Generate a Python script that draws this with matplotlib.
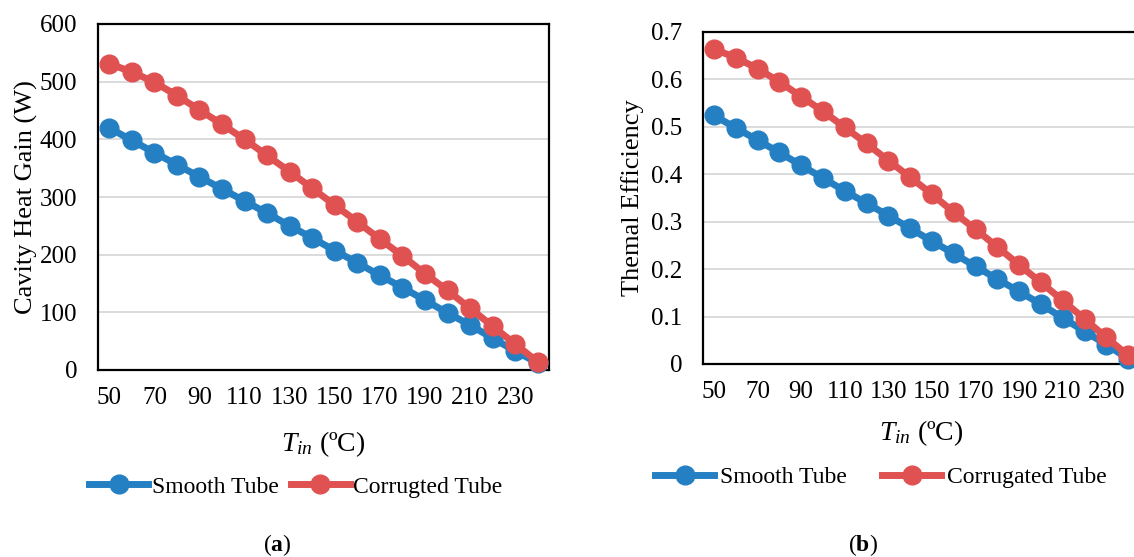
import matplotlib
matplotlib.use("Agg")
import matplotlib.pyplot as plt
from matplotlib.lines import Line2D

plt.rcParams['font.family'] = ['Liberation Serif', 'DejaVu Serif']
plt.rcParams['mathtext.fontset'] = 'custom'
plt.rcParams['mathtext.it'] = 'Liberation Serif:italic'
plt.rcParams['mathtext.rm'] = 'Liberation Serif'
plt.rcParams['mathtext.bf'] = 'Liberation Serif:bold'

T_in = [50, 60, 70, 80, 90, 100, 110, 120, 130, 140, 150, 160, 170, 180, 190, 200, 210, 220, 230, 240]
tick_labels = [50, 70, 90, 110, 130, 150, 170, 190, 210, 230]

heat_smooth = [420, 398, 377, 356, 335, 314, 293, 272, 250, 229, 207, 186, 164, 143, 121, 99, 78, 55, 33, 12]
heat_corr = [531, 517, 499, 476, 451, 426, 400, 372, 344, 315, 286, 257, 227, 198, 167, 138, 107, 76, 45, 14]

eff_smooth = [0.524, 0.498, 0.472, 0.446, 0.419, 0.392, 0.365, 0.339, 0.313, 0.286, 0.259, 0.233, 0.206, 0.179,
              0.153, 0.126, 0.097, 0.069, 0.041, 0.011]
eff_corr = [0.664, 0.646, 0.623, 0.595, 0.564, 0.533, 0.499, 0.465, 0.429, 0.394, 0.358, 0.320, 0.284, 0.247,
            0.209, 0.172, 0.134, 0.095, 0.056, 0.018]

BLUE = '#2580C3'
RED = '#E05252'
FS = 18
LW = 5
MS = 13.5

fig = plt.figure(figsize=(11.34, 5.57), dpi=100)
W, H = 1134, 557


def make_axes(px_left, px_right, px_top, px_bottom):
    return fig.add_axes([px_left / W, 1 - px_bottom / H, (px_right - px_left) / W, (px_bottom - px_top) / H])


def style(ax, ylim, yticks, yfmt):
    ax.set_xlim(45, 245)
    ax.set_ylim(*ylim)
    ax.set_yticks(yticks)
    ax.set_yticklabels([yfmt(v) for v in yticks], fontsize=FS)
    ax.set_xticks(tick_labels)
    ax.set_xticklabels([str(v) for v in tick_labels], fontsize=FS)
    ax.tick_params(length=0)
    ax.tick_params(axis='x', pad=12)
    ax.tick_params(axis='y', pad=15)
    ax.grid(axis='y', color='#D9D9D9', lw=1.3)
    ax.set_axisbelow(True)
    for s in ax.spines.values():
        s.set_linewidth(1.6)
        s.set_color('black')


def draw(ax, s, c):
    ax.plot(T_in, s, color=BLUE, lw=LW, marker='o', ms=MS, clip_on=False, zorder=3)
    ax.plot(T_in, c, color=RED, lw=LW, marker='o', ms=MS, clip_on=False, zorder=4)


# (a)
ax1 = make_axes(98, 549, 24, 370)
draw(ax1, heat_smooth, heat_corr)
style(ax1, (0, 600), [0, 100, 200, 300, 400, 500, 600], lambda v: f"{v:d}")
ax1.set_ylabel('Cavity Heat Gain (W)', fontsize=19, labelpad=1)
ax1.set_xlabel(r'$T_{in}$ (ºC)', fontsize=20, labelpad=15)

# (b)
ax2 = make_axes(703, 1139, 32, 364)
draw(ax2, eff_smooth, eff_corr)
style(ax2, (0, 0.7), [0, 0.1, 0.2, 0.3, 0.4, 0.5, 0.6, 0.7], lambda v: "0" if v == 0 else f"{v:.1f}")
ax2.set_ylabel('Themal Efficiency', fontsize=19, labelpad=5)
ax2.set_xlabel(r'$T_{in}$ (ºC)', fontsize=20, labelpad=11)


def handles():
    return [Line2D([], [], color=BLUE, lw=LW, marker='o', ms=MS),
            Line2D([], [], color=RED, lw=LW, marker='o', ms=MS)]


fig.legend(handles(), ['Smooth Tube', 'Corrugted Tube'], loc='center', bbox_to_anchor=(296 / W, 1 - 487 / H),
           ncol=2, frameon=False, fontsize=17, handlelength=2.5, handletextpad=0.15, columnspacing=0.5)
fig.legend(handles(), ['Smooth Tube', 'Corrugated Tube'], loc='center', bbox_to_anchor=(881 / W, 1 - 477 / H),
           ncol=2, frameon=False, fontsize=17, handlelength=2.5, handletextpad=0.25, columnspacing=1.5)

fig.text(277 / W, 1 - 545 / H, r'($\mathbf{a}$)', ha='center', va='center', fontsize=17)
fig.text(863 / W, 1 - 545 / H, r'($\mathbf{b}$)', ha='center', va='center', fontsize=17)

fig.savefig('out.png', dpi=100)
